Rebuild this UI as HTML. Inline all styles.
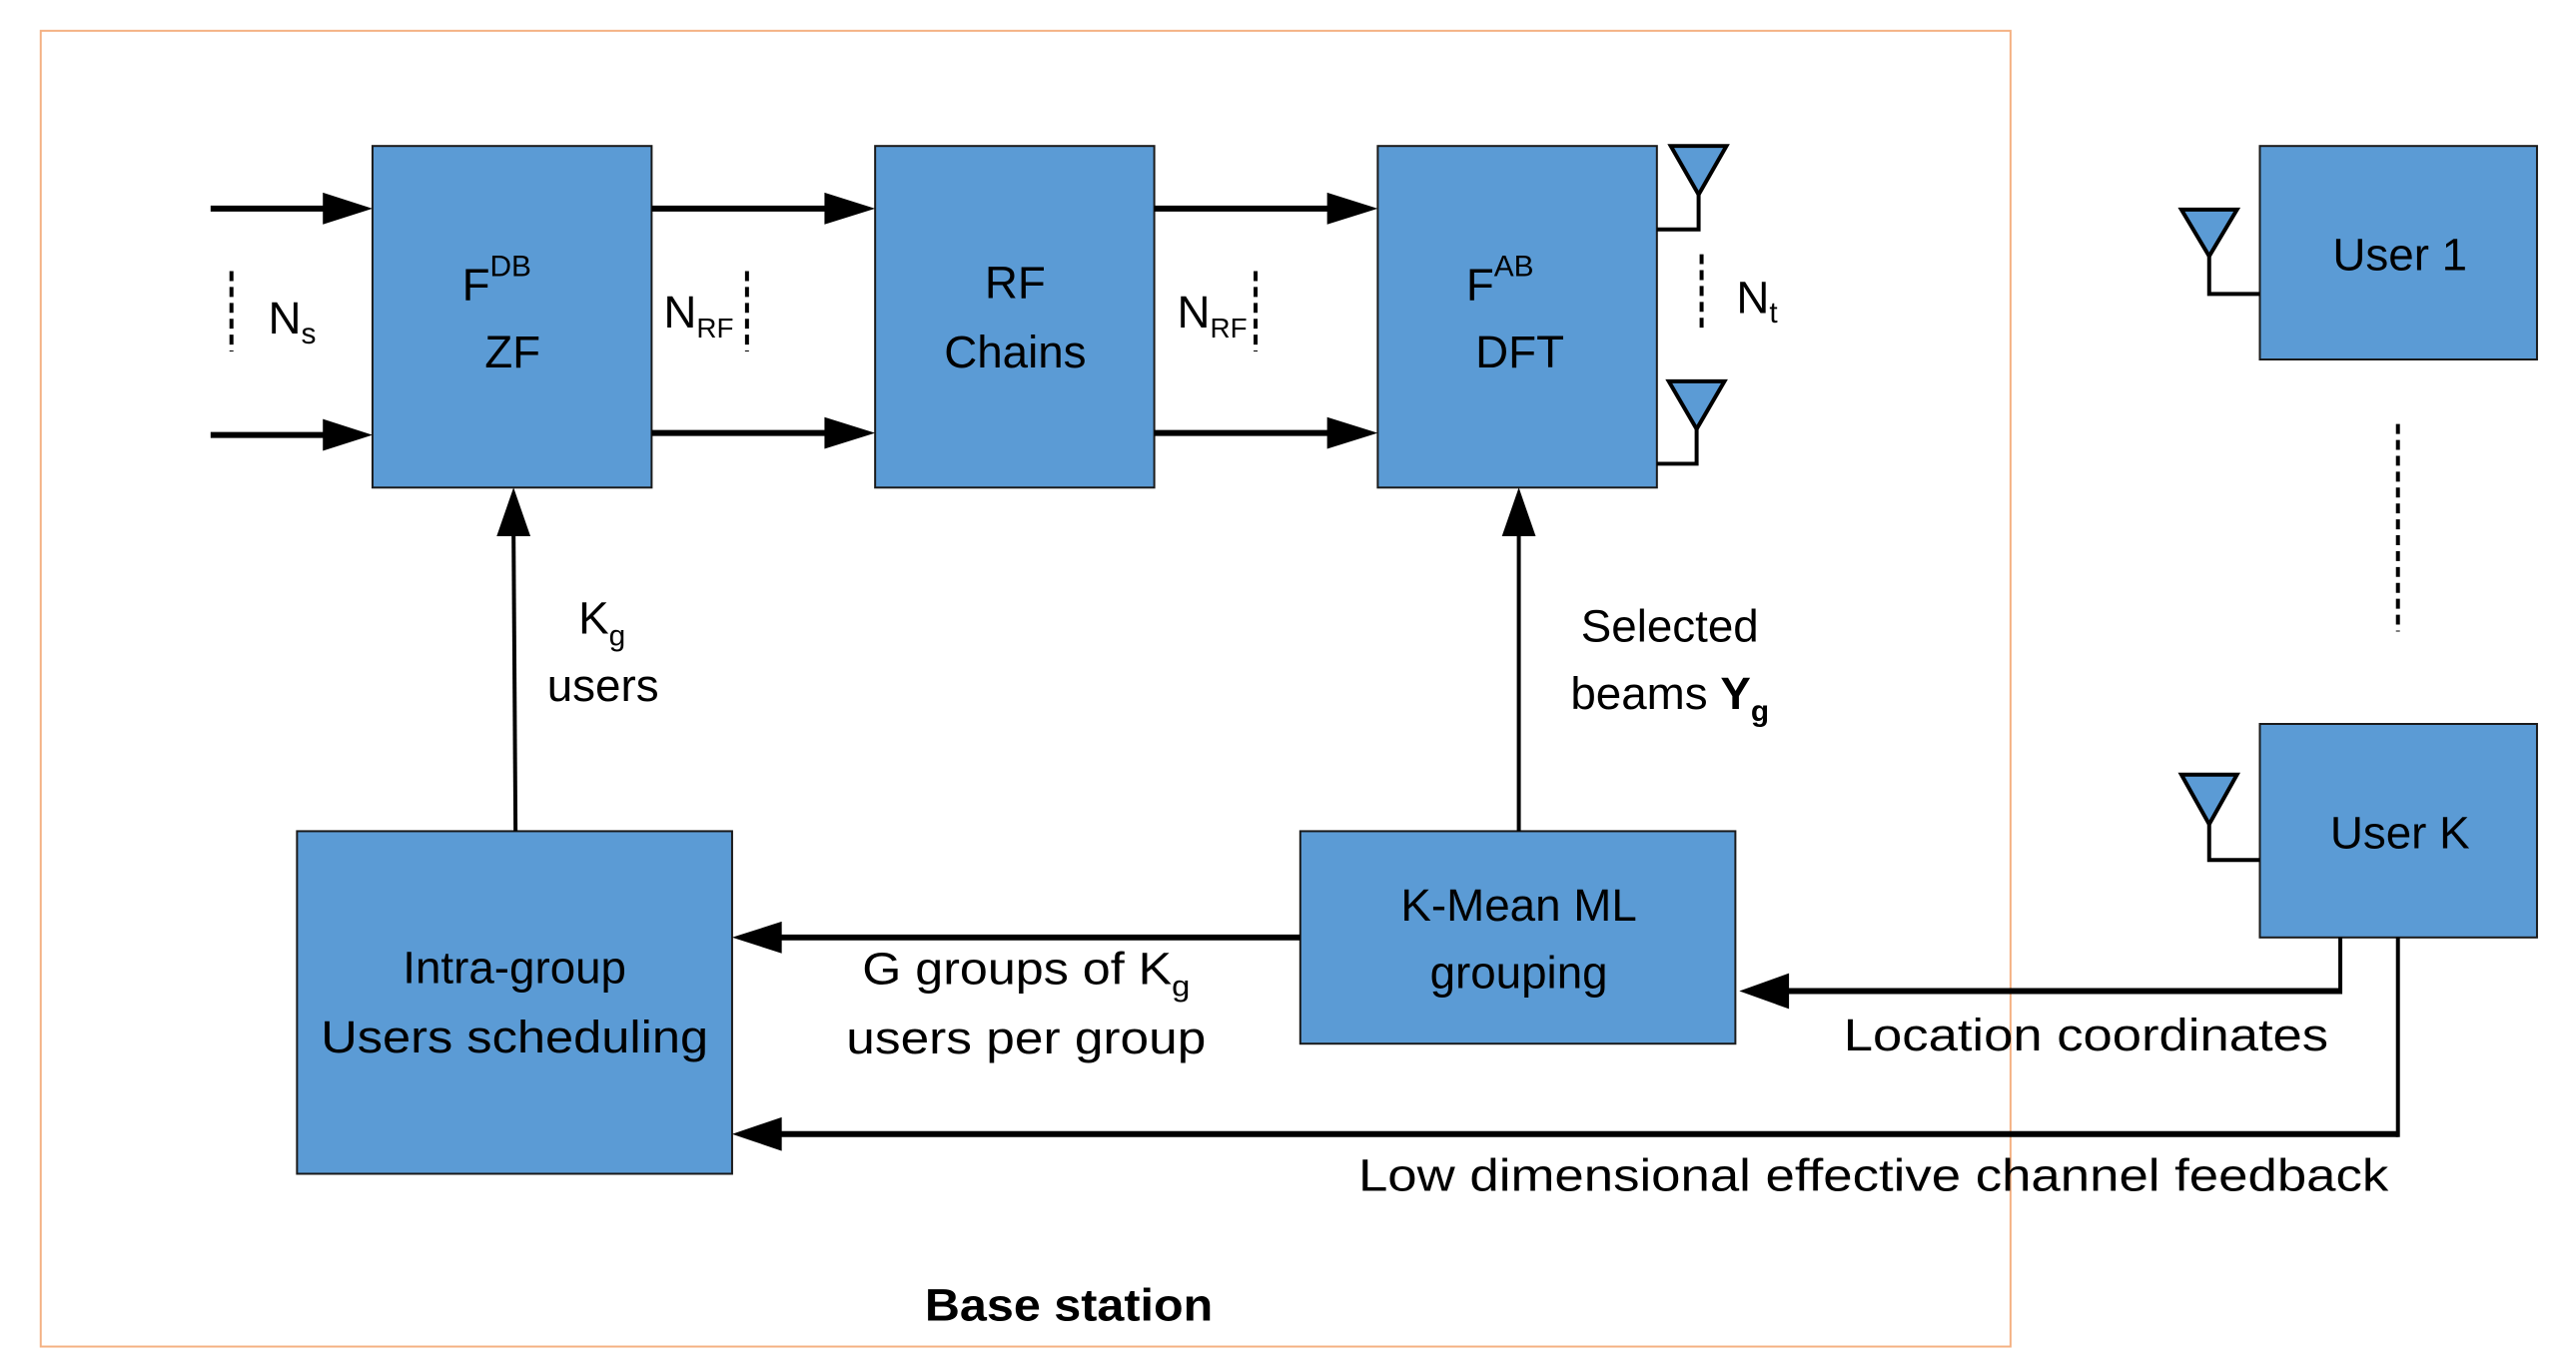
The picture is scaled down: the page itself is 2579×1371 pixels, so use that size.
<!DOCTYPE html>
<html><head><meta charset="utf-8"><style>
html,body{margin:0;padding:0;background:#fff}
svg{display:block}
text{font-family:"Liberation Sans",sans-serif;fill:#000}
</style></head><body>
<svg width="2579" height="1371" viewBox="0 0 2579 1371" xmlns="http://www.w3.org/2000/svg">
<g transform="scale(0.9945)">
<rect x="41" y="31" width="1983" height="1325" fill="none" stroke="#F4B183" stroke-width="2"/>

<g fill="#5B9BD5" stroke="#1a1a1a" stroke-width="2">
<rect x="375" y="147" width="281" height="344"/>
<rect x="881" y="147" width="281" height="344"/>
<rect x="1387" y="147" width="281" height="344"/>
<rect x="2275" y="147" width="279" height="215"/>
<rect x="2275" y="729" width="279" height="215"/>
<rect x="299" y="837" width="438" height="345"/>
<rect x="1309" y="837" width="438" height="214"/>
</g>

<g stroke="#000" stroke-width="6">
<line x1="212" y1="210" x2="330" y2="210"/>
<line x1="212" y1="438" x2="330" y2="438"/>
<line x1="656" y1="210" x2="835" y2="210"/>
<line x1="656" y1="436" x2="835" y2="436"/>
<line x1="1162" y1="210" x2="1341" y2="210"/>
<line x1="1162" y1="436" x2="1341" y2="436"/>
<line x1="1309" y1="944" x2="785" y2="944"/>
<line x1="2356" y1="998" x2="1800" y2="998"/>
<line x1="2414" y1="1142" x2="785" y2="1142"/>
</g>
<g fill="#000">
<polygon points="325,194 375,210 325,226"/>
<polygon points="325,422 375,438 325,454"/>
<polygon points="830,194 881,210 830,226"/>
<polygon points="830,420 881,436 830,452"/>
<polygon points="1336,194 1387,210 1336,226"/>
<polygon points="1336,420 1387,436 1336,452"/>
<polygon points="787,928 737,944 787,960"/>
<polygon points="1801,980 1751,998 1801,1016"/>
<polygon points="787,1125 737,1142 787,1159"/>
<polygon points="500,540 517,491 534,540"/>
<polygon points="1512,540 1529,491 1546,540"/>
</g>
<g stroke="#000" stroke-width="4" fill="none">
<line x1="517" y1="537" x2="519" y2="837"/>
<line x1="1529" y1="537" x2="1529" y2="837"/>
<polyline points="2356,944 2356,1001"/>
<polyline points="2414,944 2414,1145"/>
</g>

<g stroke="#000" stroke-width="4" fill="#5B9BD5">
<polygon points="1682,147 1738,147 1710,196"/>
<polygon points="1680,384 1736,384 1708,432"/>
<polygon points="2196,211 2252,211 2224,258"/>
<polygon points="2196,780 2252,780 2224,830"/>
</g>
<g stroke="#000" stroke-width="4" fill="none">
<polyline points="1710,196 1710,231 1668,231"/>
<polyline points="1708,432 1708,467 1668,467"/>
<polyline points="2224,258 2224,296 2275,296"/>
<polyline points="2224,830 2224,866 2275,866"/>
</g>
<g stroke="#000" stroke-width="4" stroke-dasharray="10,6" fill="none">
<line x1="233" y1="273" x2="233" y2="354"/>
<line x1="752" y1="273" x2="752" y2="354"/>
<line x1="1264" y1="273" x2="1264" y2="354"/>
<line x1="1713" y1="256" x2="1713" y2="336"/>
<line x1="2414" y1="427" x2="2414" y2="636"/>
</g>

<g font-size="46" text-anchor="middle">
<text x="500" y="302">F<tspan font-size="30" dy="-24">DB</tspan></text>
<text x="516" y="370">ZF</text>
<text x="1022" y="300">RF</text>
<text x="1022" y="370">Chains</text>
<text x="1510" y="302">F<tspan font-size="30" dy="-24">AB</tspan></text>
<text x="1530" y="370">DFT</text>
<text x="2416" y="272">User 1</text>
<text x="2416" y="854">User K</text>
<text x="518" y="990">Intra-group</text>
<text x="518" y="1060" textLength="390" lengthAdjust="spacingAndGlyphs">Users scheduling</text>
<text x="1529" y="927">K-Mean ML</text>
<text x="1529" y="995">grouping</text>
<text x="1033" y="991" textLength="330" lengthAdjust="spacingAndGlyphs">G groups of K<tspan font-size="30" dy="12">g</tspan></text>
<text x="1033" y="1061" textLength="362" lengthAdjust="spacingAndGlyphs">users per group</text>
<text x="2100" y="1058" textLength="488" lengthAdjust="spacingAndGlyphs">Location coordinates</text>
<text x="1886" y="1199" textLength="1037" lengthAdjust="spacingAndGlyphs">Low dimensional effective channel feedback</text>
<text x="1076" y="1330" font-weight="bold" textLength="290" lengthAdjust="spacingAndGlyphs">Base station</text>
<text x="606" y="638">K<tspan font-size="30" dy="12">g</tspan></text>
<text x="607" y="706">users</text>
<text x="1681" y="646">Selected</text>
<text x="1681" y="714">beams <tspan font-weight="bold">Y</tspan><tspan font-size="30" font-weight="bold" dy="12">g</tspan></text>
</g>
<g font-size="46">
<text x="270" y="336">N<tspan font-size="30" dy="10">s</tspan></text>
<text x="668" y="330">N<tspan font-size="28" dy="10">RF</tspan></text>
<text x="1185" y="330">N<tspan font-size="28" dy="10">RF</tspan></text>
<text x="1748" y="315">N<tspan font-size="30" dy="10">t</tspan></text>
</g>
</g>
</svg>
</body></html>
